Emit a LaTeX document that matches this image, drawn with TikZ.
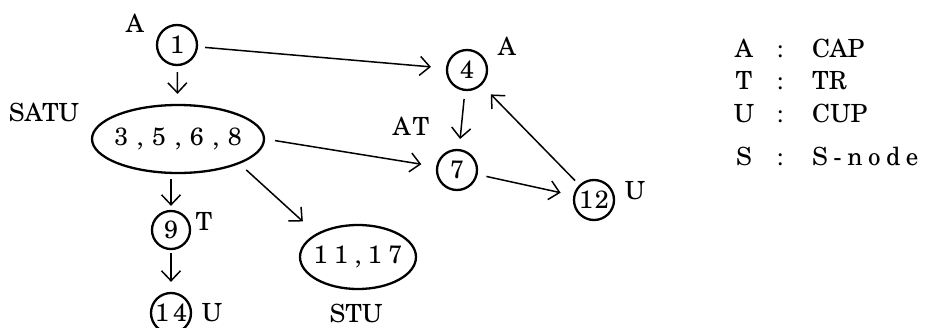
\documentclass[tikz,border=0pt]{standalone}
\usepackage{fontspec}
\setmainfont{texgyreschola-regular}[Extension=.otf]
\usetikzlibrary{arrows.meta,shapes.geometric}
\begin{document}
\begin{tikzpicture}[x=1pt,y=-1pt,
  every node/.style={font=\fontsize{25}{30}\selectfont, inner sep=0pt},
  circ/.style={draw, circle, line width=2.3pt, minimum size=40pt},
  ell/.style={draw, ellipse, line width=2.3pt},
  arr/.style={line width=1.5pt, -{Straight Barb[length=10pt,width=19pt,line width=1.5pt]}},
  lbl/.style={},
  key/.style={anchor=base},
  val/.style={anchor=base west}]
\useasboundingbox (0,0) rectangle (927,327);
% nodes
\node[circ] (n1) at (177,45) {1};
\node[ell, minimum width=172pt, minimum height=68pt] (e1) at (178,139)
  {\makebox[0pt]{3\kern8.5pt,\kern8.5pt5\kern8.5pt,\kern8.5pt6\kern8.5pt,\kern8.5pt8}};
\node[circ] (n4) at (467,70) {4};
\node[circ] (n7) at (457,170) {7};
\node[circ] (n12) at (594,200) {\makebox[0pt]{1\kern2pt2}};
\node[circ, minimum size=38pt] (n9) at (171,230) {9};
\node[circ, minimum size=40pt] (n14) at (171,313) {\makebox[0pt]{1\kern4pt4}};
\node[ell, minimum width=116pt, minimum height=64pt] (e2) at (358,257)
  {\makebox[0pt]{1\kern6.5pt1\kern6.5pt,\kern6.5pt1\kern6.5pt7}};
% labels
\node[lbl] (lA1) at (135,23) {A};
\node[lbl] (lSATU) at (44,112) {SATU};
\node[lbl] (lA4) at (507,46) {A};
\node[lbl] (lAT) at (411,126) {A\kern2pt T};
\node[lbl] (lT9) at (204,221) {T};
\node[lbl] (lU14) at (212,313) {U};
\node[lbl] (lSTU) at (356,313) {STU};
\node[lbl] (lU12) at (635,191) {U};
% connectors
\draw[arr, shorten <=6pt, shorten >=10pt] (n1) -- (e1);
\draw[arr, shorten <=7pt, shorten >=15pt] (n1) -- (n4);
\draw[arr, shorten <=8pt, shorten >=10pt] (n4) -- (n7);
\draw[arr, shorten <=10pt, shorten >=15pt] (e1.east) -- (n7);
\draw[arr, shorten <=9pt, shorten >=13pt] (n7) -- (n12);
\draw[arr, shorten <=6pt, shorten >=13pt] (n12) -- (n4);
\draw[arr, shorten <=5pt, shorten >=4pt] (n9.north |- e1.south) -- (n9.north);
\draw[arr, shorten <=3pt, shorten >=10pt] (n9) -- (n14);
\draw[arr, shorten <=9pt, shorten >=18pt] (e1.south east) -- (e2.north west);
% legend
\node[key] (kA) at (744,57) {A};
\node[key] (cA) at (780,57) {:};
\node[val] (vA) at (812,57) {CAP};
\node[key] (kT) at (744,89) {T};
\node[key] (cT) at (780,89) {:};
\node[val] (vT) at (812,89) {TR};
\node[key] (kU) at (744,122) {U};
\node[key] (cU) at (780,122) {:};
\node[val] (vU) at (812,122) {CUP};
\node[key] (kS) at (744,165) {S};
\node[key] (cS) at (780,165) {:};
\node[val] (vS) at (812,165) {S\kern5.5pt-\kern5.5pt n\kern5.5pt o\kern5.5pt d\kern5.5pt e};
\end{tikzpicture}
\end{document}
